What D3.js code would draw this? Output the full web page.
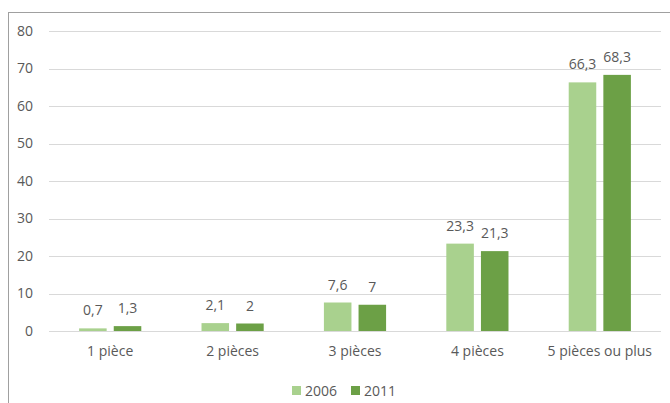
<!DOCTYPE html>
<html>
<head>
<meta charset="utf-8">
<script src="https://cdn.jsdelivr.net/npm/d3@7"></script>
<style>
  html, body { margin: 0; padding: 0; background: #fff; }
  svg { display: block; font-family: "Open Sans", "Noto Sans", sans-serif; }
</style>
</head>
<body>
<svg id="chart" width="670" height="403"></svg>
<script>
const categories = ["1 pièce", "2 pièces", "3 pièces", "4 pièces", "5 pièces ou plus"];
const seriesNames = ["2006", "2011"];
const values2006 = [0.7, 2.1, 7.6, 23.3, 66.3];
const values2011 = [1.3, 2, 7, 21.3, 68.3];
const yTicks = [0, 10, 20, 30, 40, 50, 60, 70, 80];
const colors = ["#A9D18E", "#6CA046"];

const svg = d3.select("#chart");
const W = 670, H = 403;
const plot = { left: 49, right: 661, top: 31, bottom: 331 };

// chart border
svg.append("rect")
  .attr("x", 8.5).attr("y", 12.5)
  .attr("width", W).attr("height", H)
  .attr("fill", "none").attr("stroke", "#A0A0A0").attr("stroke-width", 1);

const x = d3.scaleBand().domain(categories).range([plot.left, plot.right]).padding(0);
const y = d3.scaleLinear().domain([0, 80]).range([plot.bottom, plot.top]);

// gridlines
svg.append("g").selectAll("line").data(yTicks).join("line")
  .attr("x1", plot.left).attr("x2", plot.right)
  .attr("y1", d => Math.round(y(d)) + 0.5).attr("y2", d => Math.round(y(d)) + 0.5)
  .attr("stroke", "#D9D9D9").attr("stroke-width", 1);

// y axis labels
const yAxis = d3.axisLeft(y).tickValues(yTicks).tickSize(0).tickPadding(0).tickFormat(d3.format("d"));
const gy = svg.append("g").attr("transform", `translate(33,0)`).call(yAxis);
gy.select(".domain").remove();
gy.selectAll("text").attr("fill", "#595959").style("font-size", "14px")
  .style("font-family", "'Open Sans', 'Noto Sans', sans-serif");

// x axis labels
const xAxis = d3.axisBottom(x).tickSize(0).tickPadding(0);
const gx = svg.append("g").attr("transform", `translate(0,${plot.bottom + 15})`).call(xAxis);
gx.select(".domain").remove();
gx.selectAll("text").attr("fill", "#595959").style("font-size", "14px")
  .style("font-family", "'Open Sans', 'Noto Sans', sans-serif");

// bars
const band = x.bandwidth();
const barW = band * 0.225;
const gap = band * 0.058;
const series = [values2006, values2011];
series.forEach((vals, si) => {
  const data = categories.map((c, i) => ({ c, v: vals[i] }));
  const bx = d => {
    const cx = x(d.c) + band / 2;
    return si === 0 ? cx - gap / 2 - barW : cx + gap / 2;
  };
  svg.append("g").selectAll("rect").data(data).join("rect")
    .attr("x", bx).attr("width", barW)
    .attr("y", d => y(d.v)).attr("height", d => y(0) - y(d.v))
    .attr("fill", colors[si]);
  svg.append("g").selectAll("text").data(data).join("text")
    .attr("x", d => bx(d) + barW / 2)
    .attr("y", d => y(d.v) - 13)
    .attr("text-anchor", "middle")
    .attr("fill", "#595959").style("font-size", "14px")
    .text(d => String(d.v).replace(".", ","));
});

// legend
const legend = [
  { name: seriesNames[0], color: colors[0], x: 292 },
  { name: seriesNames[1], color: colors[1], x: 351 }
];
const lg = svg.append("g");
legend.forEach(l => {
  lg.append("rect").attr("x", l.x).attr("y", 386).attr("width", 9).attr("height", 9).attr("fill", l.color);
  lg.append("text").attr("x", l.x + 13).attr("y", 396).attr("fill", "#595959")
    .style("font-size", "14px").text(l.name);
});
</script>
</body>
</html>
